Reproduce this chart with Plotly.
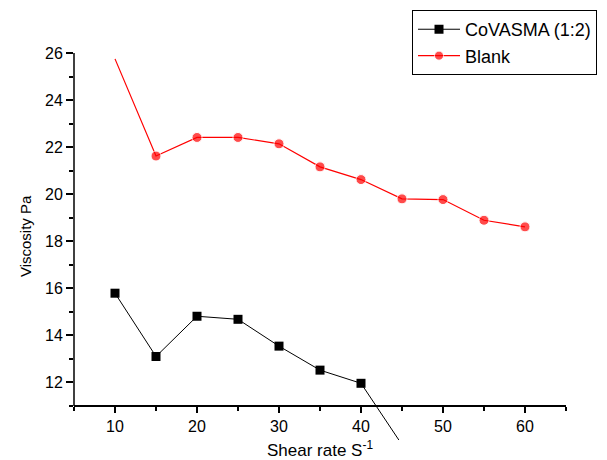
import plotly.graph_objects as go

# Shear rate (1/s)
shear_black = [10, 15, 20, 25, 30, 35, 40, 45]
visc_black = [15.79, 13.10, 14.81, 14.68, 13.54, 12.52, 11.96, 9.35]

shear_red = [10, 15, 20, 25, 30, 35, 40, 45, 50, 55, 60]
visc_red = [25.75, 21.62, 22.41, 22.41, 22.14, 21.16, 20.62, 19.80, 19.77, 18.89, 18.61]

x_major = [10, 20, 30, 40, 50, 60]
x_minor = [5, 15, 25, 35, 45, 55, 65]
y_major = [12, 14, 16, 18, 20, 22, 24, 26]
y_minor = [11, 13, 15, 17, 19, 21, 23, 25]

FONT = "Arial, Liberation Sans, sans-serif"

# frame geometry: the drawing area extends below the x axis (y = 11)
y_axis_low = 11
y_top = 26
y_floor = 9.55
axis_pos = (y_axis_low - y_floor) / (y_top - y_floor)

# first Blank point carries no symbol
red_sizes = [0] + [10] * (len(shear_red) - 1)

fig = go.Figure()
fig.add_trace(go.Scatter(
    x=shear_black, y=visc_black, mode="lines+markers", name="CoVASMA (1:2)",
    line=dict(color="black", width=1),
    marker=dict(symbol="square", size=9, color="black"),
))
fig.add_trace(go.Scatter(
    x=shear_red, y=visc_red, mode="lines+markers", name="Blank",
    line=dict(color="#ff0000", width=1.2),
    marker=dict(symbol="circle", size=red_sizes, color="#ff0000"),
))

fig.update_layout(
    width=607, height=460,
    margin=dict(l=74, r=41, t=53, b=20, autoexpand=False),
    paper_bgcolor="white", plot_bgcolor="white",
    font=dict(family=FONT, size=16, color="black"),
    showlegend=True,
    legend=dict(
        x=0.687, y=1.111, xanchor="left", yanchor="top",
        bordercolor="black", borderwidth=1, bgcolor="white",
        font=dict(family=FONT, size=18, color="black"),
        tracegroupgap=0, itemwidth=42,
    ),
    xaxis=dict(
        range=[5, 65], anchor="free", position=axis_pos, automargin=False,
        showgrid=False, zeroline=False,
        showline=True, linecolor="black", linewidth=1.5,
        tickmode="array", tickvals=x_major,
        ticks="outside", ticklen=6, tickwidth=1.5, tickcolor="black",
        minor=dict(tickmode="array", tickvals=x_minor, ticks="outside",
                   ticklen=4, tickwidth=1.5, tickcolor="black"),
        tickfont=dict(size=16),
        title=dict(text="Shear rate S<sup>-1</sup>", font=dict(size=17), standoff=12),
    ),
    yaxis=dict(
        range=[y_floor, y_top], automargin=False,
        showgrid=False, zeroline=False, showline=False,
        tickmode="array", tickvals=y_major,
        ticks="outside", ticklen=7, tickwidth=1.5, tickcolor="black",
        minor=dict(tickmode="array", tickvals=y_minor, ticks="outside",
                   ticklen=4, tickwidth=1.5, tickcolor="black"),
        tickfont=dict(size=16),
    ),
    annotations=[dict(
        text="Viscosity Pa", textangle=-90, showarrow=False,
        xref="paper", yref="paper", x=-0.0996, y=0.527,
        xanchor="center", yanchor="middle",
        font=dict(family=FONT, size=15, color="black"),
    )],
    shapes=[dict(
        type="line", xref="paper", yref="paper",
        x0=0, x1=0, y0=axis_pos, y1=1,
        line=dict(color="black", width=1.5), layer="above",
    )],
)

fig.write_html("out.html")
